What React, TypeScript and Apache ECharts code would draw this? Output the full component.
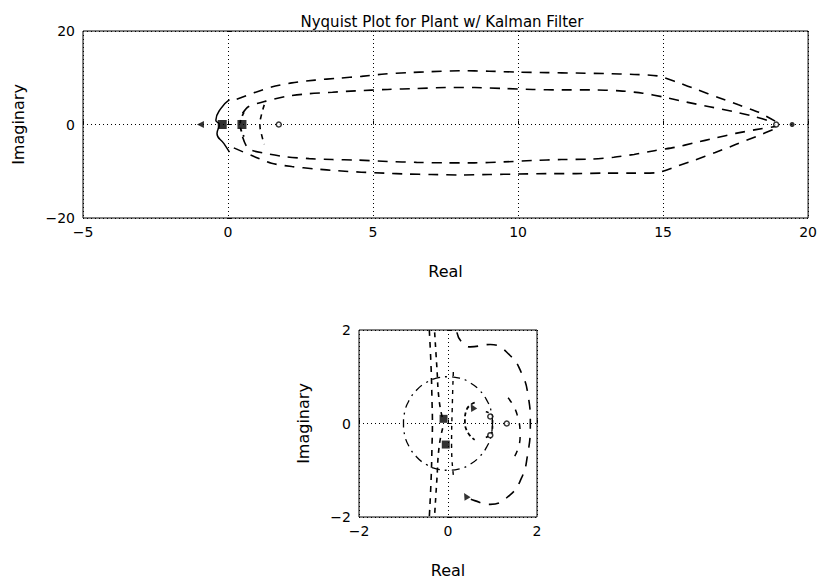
import React, { useEffect, useRef } from "react";
import * as echarts from "echarts";

const TITLE = "Nyquist Plot for Plant w/ Kalman Filter";
const X_NAME = "Real";
const Y_NAME = "Imaginary";

// ---- top plot (full view) ----
const outerUpper = [[0.3,5.4],[0.9,6.8],[1.5,8.0],[2.2,8.9],[3.0,9.5],[3.8,9.9],[4.6,10.3],[5.4,10.8],[6.2,11.1],[7.0,11.3],[8.0,11.5],[9.0,11.4],[10.0,11.2],[11.0,11.1],[12.0,11.0],[13.0,10.9],[14.0,10.7],[14.8,10.4],[15.5,9.0],[16.2,7.4],[16.9,5.8],[17.6,4.2],[18.3,2.6],[18.9,0.6]];
const innerUpper = [[0.5,2.4],[0.7,3.8],[1.3,5.0],[2.0,6.0],[2.8,6.6],[3.6,6.9],[4.4,7.2],[5.5,7.5],[6.5,7.7],[7.5,7.9],[8.5,7.9],[9.5,7.7],[10.5,7.5],[11.5,7.4],[12.5,7.4],[13.5,7.2],[14.3,6.7],[15.0,5.9],[15.8,4.8],[16.6,3.8],[17.4,2.8],[18.1,1.8],[18.8,0.5]];
const innerLower = [[0.5,-2.6],[0.7,-5.2],[1.3,-6.2],[2.0,-6.9],[2.8,-7.3],[3.6,-7.5],[4.4,-7.6],[5.5,-7.9],[6.5,-8.1],[7.5,-8.2],[8.5,-8.2],[9.5,-8.0],[10.5,-7.7],[11.5,-7.5],[12.5,-7.4],[13.3,-7.0],[14.0,-6.4],[14.7,-5.6],[15.4,-4.9],[16.1,-3.9],[16.8,-2.9],[17.5,-1.9],[18.2,-1.1],[18.9,-0.4]];
const outerLower = [[0.2,-5.0],[0.8,-6.6],[1.5,-8.3],[2.2,-9.0],[3.0,-9.5],[3.8,-9.9],[4.6,-10.2],[5.4,-10.4],[6.2,-10.6],[7.0,-10.7],[8.0,-10.8],[9.0,-10.7],[10.0,-10.6],[11.0,-10.5],[12.0,-10.5],[13.0,-10.4],[14.0,-10.4],[14.8,-10.3],[15.4,-9.1],[16.1,-7.6],[16.8,-6.0],[17.5,-4.3],[18.2,-2.6],[18.9,-0.8]];
const solidArc = [[0.05,5.3],[-0.25,3.4],[-0.42,0.9],[-0.3,0.0],[-0.38,-1.9],[-0.14,-4.1],[0.05,-5.9]];
const nearA = [[1.25,4.2],[1.15,2.0],[1.1,0.0],[1.15,-2.0],[1.25,-4.2]];
const nearB = [[0.55,2.6],[0.45,1.2],[0.42,0.0],[0.45,-1.2],[0.55,-2.6]];
const topTriangle = [[-0.95,0]];
const topBlobs = [[-0.2,0],[0.48,0]];
const topHollow = [[1.75,0],[18.9,0]];
const topDot = [[19.45,0]];

// ---- bottom plot (zoom near origin) ----
const unitCircle = [[1,0],[0.97,0.26],[0.87,0.5],[0.71,0.71],[0.5,0.87],[0.26,0.97],[0,1],[-0.26,0.97],[-0.5,0.87],[-0.71,0.71],[-0.87,0.5],[-0.97,0.26],[-1,0],[-0.97,-0.26],[-0.87,-0.5],[-0.71,-0.71],[-0.5,-0.87],[-0.26,-0.97],[0,-1],[0.26,-0.97],[0.5,-0.87],[0.71,-0.71],[0.87,-0.5],[0.97,-0.26],[1,0]];
const bigArc = [[0.2,1.95],[0.3,1.75],[0.5,1.64],[0.95,1.69],[1.39,1.46],[1.66,1.06],[1.8,0.6],[1.85,0.0],[1.78,-0.72],[1.65,-1.17],[1.39,-1.53],[0.95,-1.73],[0.6,-1.65],[0.35,-1.55]];
const sideCurve = [[1.35,0.55],[1.55,0.2],[1.62,-0.3],[1.5,-0.7]];
const vert1 = [[-0.42,2.0],[-0.38,1.2],[-0.36,0.5],[-0.35,0.0],[-0.36,-0.5],[-0.38,-1.2],[-0.42,-2.0]];
const vert2a = [[-0.3,1.95],[-0.25,1.2],[-0.2,0.5],[-0.12,0.1]];
const vert2b = [[-0.12,-0.1],[-0.2,-0.5],[-0.25,-1.2],[-0.3,-1.95]];
const vert3 = [[0.12,1.1],[0.1,0.5],[0.08,-0.5],[0.12,-1.1]];
const loopA = [[0.6,0.45],[0.42,0.3],[0.38,0.05],[0.45,-0.2],[0.6,-0.35]];
const loopB = [[0.85,0.25],[1.0,0.15],[1.0,-0.15],[0.85,-0.3]];
const botBlobs = [[-0.1,0.1],[-0.05,-0.45]];
const botTriangles = [[0.55,0.35],[0.4,-1.55]];
const botHollow = [[1.32,0],[0.95,0.15],[0.95,-0.25]];

const FONT = "DejaVu Sans";
const fmt = (v: number) => String(v).replace("-", "\u2212");

function axisCommon() {
  return {
    type: "value" as const,
    nameLocation: "middle" as const,
    nameTextStyle: { color: "#000", fontSize: 16, fontFamily: FONT },
    axisLine: { show: false },
    axisTick: { show: true, inside: true, length: 4, lineStyle: { color: "#000" } },
    axisLabel: { color: "#000", fontSize: 14, fontFamily: FONT, formatter: fmt },
    splitLine: { show: true, lineStyle: { color: "#000", type: [1, 3], width: 1 } },
  };
}

function dashed(data: number[][], xi: number, dash: any = [10, 8], width = 1.6, smooth: any = true) {
  return {
    type: "line", xAxisIndex: xi, yAxisIndex: xi, data, showSymbol: false, smooth,
    lineStyle: { color: "#000", width, type: dash }, silent: true, z: 3,
  };
}

function scatter(data: number[][], xi: number, symbol: string, size: number, filled: boolean, rotate = 0) {
  return {
    type: "scatter", xAxisIndex: xi, yAxisIndex: xi, data, symbol, symbolSize: size, symbolRotate: rotate,
    itemStyle: filled ? { color: "#000" } : { color: "#fff", borderColor: "#000", borderWidth: 1.5 },
    silent: true, z: 4,
  };
}

export default function App() {
  const ref = useRef<HTMLDivElement>(null);
  useEffect(() => {
    if (!ref.current) return;
    const chart = echarts.init(ref.current, null, { renderer: "svg" });
    chart.setOption({
      animation: false,
      backgroundColor: "#fff",
      textStyle: { fontFamily: FONT },
      graphic: [
        { type: "text", x: 442, y: 22, style: { text: TITLE, fill: "#000", font: `15px "${FONT}"`, textAlign: "center", textVerticalAlign: "middle" } },
      ],
      grid: [
        { left: 83, top: 31, width: 726, height: 187, show: true, borderColor: "#000", borderWidth: 1, backgroundColor: "transparent" },
        { left: 359, top: 330, width: 178, height: 187, show: true, borderColor: "#000", borderWidth: 1, backgroundColor: "transparent" },
      ],
      xAxis: [
        { ...axisCommon(), gridIndex: 0, min: -5, max: 20, interval: 5, name: X_NAME, nameGap: 45, axisLabel: { ...axisCommon().axisLabel, margin: 7 } },
        { ...axisCommon(), gridIndex: 1, min: -2, max: 2, interval: 2, name: X_NAME, nameGap: 45, axisLabel: { ...axisCommon().axisLabel, margin: 7 } },
      ],
      yAxis: [
        { ...axisCommon(), gridIndex: 0, min: -20, max: 20, interval: 20, name: Y_NAME, nameGap: 57, axisLabel: { ...axisCommon().axisLabel, margin: 8 } },
        { ...axisCommon(), gridIndex: 1, min: -2, max: 2, interval: 2, name: Y_NAME, nameGap: 48, axisLabel: { ...axisCommon().axisLabel, margin: 8 } },
      ],
      series: [
        dashed(outerUpper, 0, [10, 8], 1.6, 0.25),
        dashed(innerUpper, 0, [10, 8], 1.6, 0.25),
        dashed(innerLower, 0, [10, 8], 1.6, 0.25),
        dashed(outerLower, 0, [10, 8], 1.6, 0.25),
        { type: "line", xAxisIndex: 0, yAxisIndex: 0, data: solidArc, showSymbol: false, smooth: true, lineStyle: { color: "#000", width: 1.5 }, silent: true },
        dashed(nearA, 0, [5, 5], 1.6),
        dashed(nearB, 0, [4, 4], 1.8),
        scatter(topTriangle, 0, "triangle", 7, true, 90),
        scatter(topBlobs, 0, "rect", 9, true),
        scatter(topHollow, 0, "circle", 5, false),
        scatter(topDot, 0, "circle", 5, true),

        { type: "line", xAxisIndex: 1, yAxisIndex: 1, data: unitCircle, showSymbol: false, smooth: true, lineStyle: { color: "#000", width: 1.3, type: [8, 5, 2, 5] }, silent: true },
        dashed(bigArc, 1, [10, 9], 1.6),
        dashed(sideCurve, 1, [6, 8], 1.5),
        dashed(vert1, 1, [6, 6], 1.6),
        dashed(vert2a, 1, [5, 5], 1.6),
        dashed(vert2b, 1, [5, 5], 1.6),
        dashed(vert3, 1, [4, 5], 1.4),
        dashed(loopA, 1, [4, 3], 1.8),
        dashed(loopB, 1, [3, 3], 1.6),
        scatter(botBlobs, 1, "rect", 8, true),
        scatter(botTriangles, 1, "triangle", 7, true, 30),
        scatter(botHollow, 1, "circle", 5, false),
      ],
    });
    return () => chart.dispose();
  }, []);
  return <div ref={ref} style={{ position: "fixed", left: 0, top: 0, width: 820, height: 582 }} />;
}
